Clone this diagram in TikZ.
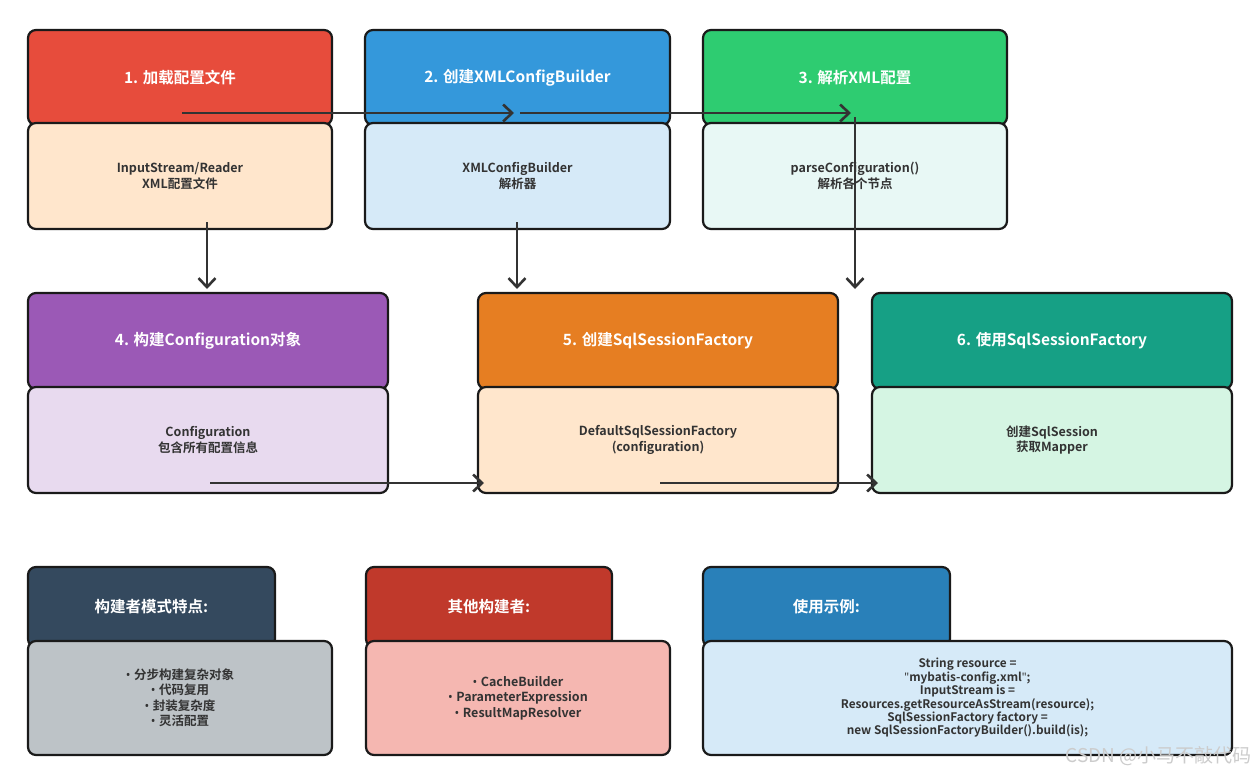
\documentclass[tikz,border=0pt]{standalone}
\usepackage{fontspec}
\setmainfont{Noto Sans CJK SC}[BoldFont={Noto Sans CJK SC Bold}]
\newfontfamily\latf{Noto Sans}
\usetikzlibrary{arrows.meta}
\definecolor{c1h}{HTML}{E74C3C}\definecolor{c1b}{HTML}{FFE6CC}
\definecolor{c2h}{HTML}{3498DB}\definecolor{c2b}{HTML}{D6EAF8}
\definecolor{c3h}{HTML}{2ECC71}\definecolor{c3b}{HTML}{E8F8F5}
\definecolor{c4h}{HTML}{9B59B6}\definecolor{c4b}{HTML}{E8DAEF}
\definecolor{c5h}{HTML}{E67E22}\definecolor{c5b}{HTML}{FFE6CC}
\definecolor{c6h}{HTML}{16A085}\definecolor{c6b}{HTML}{D5F5E3}
\definecolor{c7h}{HTML}{34495E}\definecolor{c7b}{HTML}{BDC3C7}
\definecolor{c8h}{HTML}{C0392B}\definecolor{c8b}{HTML}{F5B7B1}
\definecolor{c9h}{HTML}{2980B9}\definecolor{c9b}{HTML}{D6EAF8}
\definecolor{ink}{HTML}{333333}
\definecolor{edge}{HTML}{1A1A1A}
\newcommand\bul{{\latf\bfseries •}\hspace{3.5pt}}
\newcommand\dq{{\latf\bfseries\symbol{34}}}
\tikzset{
  boxbase/.style={draw=edge, line width=2.2pt, rounded corners=8pt, inner sep=0pt, outer sep=0pt, align=center},
  hdr/.style={boxbase, text=white, font=\bfseries\fontsize{15.5}{18}\selectfont},
  bdy/.style={boxbase, text=ink, font=\bfseries\fontsize{12.5}{15.5}\selectfont},
  arr/.style={draw=ink, line width=2.6pt, -{Straight Barb[length=9pt,width=17pt,line width=2.6pt]}}
}
\begin{document}
\begin{tikzpicture}[x=1pt,y=-1pt]
\useasboundingbox[fill=white] (0,0) rectangle (1258,779);
% Row 1
\node[hdr, fill=c1h, minimum width=304pt, minimum height=95pt] (h1) at (180,77.5) {1. 加载配置文件};
\node[bdy, fill=c1b, minimum width=304pt, minimum height=106pt] (b1) at (180,176) {InputStream/Reader\\XML配置文件};
\node[hdr, fill=c2h, minimum width=305pt, minimum height=95pt] (h2) at (517.5,77.5) {2. 创建XMLConfigBuilder};
\node[bdy, fill=c2b, minimum width=305pt, minimum height=106pt] (b2) at (517.5,176) {XMLConfigBuilder\\解析器};
\node[hdr, fill=c3h, minimum width=304pt, minimum height=95pt] (h3) at (855,77.5) {3. 解析XML配置};
\node[bdy, fill=c3b, minimum width=304pt, minimum height=106pt] (b3) at (855,176) {parseConfiguration()\\解析各个节点};
% Row 2
\node[hdr, fill=c4h, minimum width=360pt, minimum height=96pt] (h4) at (208,341) {4. 构建Configuration对象};
\node[bdy, fill=c4b, minimum width=360pt, minimum height=106pt] (b4) at (208,440) {Configuration\\包含所有配置信息};
\node[hdr, fill=c5h, minimum width=360pt, minimum height=96pt] (h5) at (658,341) {5. 创建SqlSessionFactory};
\node[bdy, fill=c5b, minimum width=360pt, minimum height=106pt] (b5) at (658,440) {DefaultSqlSessionFactory\\(configuration)};
\node[hdr, fill=c6h, minimum width=360pt, minimum height=96pt] (h6) at (1052,341) {6. 使用SqlSessionFactory};
\node[bdy, fill=c6b, minimum width=360pt, minimum height=106pt] (b6) at (1052,440) {创建SqlSession\\获取Mapper};
% Row 3
\node[hdr, fill=c7h, minimum width=247pt, minimum height=80pt] (h7) at (151.5,607) {构建者模式特点:};
\node[bdy, fill=c7b, minimum width=304pt, minimum height=114pt] (b7) at (180,698) {\bul 分步构建复杂对象\\\bul 代码复用\\\bul 封装复杂度\\\bul 灵活配置};
\node[hdr, fill=c8h, minimum width=246pt, minimum height=80pt] (h8) at (489,607) {其他构建者:};
\node[bdy, fill=c8b, minimum width=304pt, minimum height=114pt] (b8) at (518,698) {\bul CacheBuilder\\\bul ParameterExpression\\\bul ResultMapResolver};
\node[hdr, fill=c9h, minimum width=247pt, minimum height=80pt] (h9) at (826.5,607) {使用示例:};
\node[bdy, fill=c9b, minimum width=529pt, minimum height=114pt, font=\bfseries\fontsize{11.8}{13.4}\selectfont] (b9) at (967.5,698) {String resource =\\\dq mybatis-config.xml\dq;\\InputStream is =\\Resources.getResourceAsStream(resource);\\SqlSessionFactory factory =\\new SqlSessionFactoryBuilder().build(is);};
% connector endpoints
\coordinate (p1s) at (182,113); \coordinate (p1e) at (514,113);
\coordinate (p2s) at (520,113); \coordinate (p2e) at (851,113);
\coordinate (v1s) at (207,222); \coordinate (v1e) at (207,289);
\coordinate (v2s) at (517,222); \coordinate (v2e) at (517,289);
\coordinate (v3s) at (855,117); \coordinate (v3e) at (855,289);
\coordinate (q1s) at (210,483); \coordinate (q1e) at (484,483);
\coordinate (q2s) at (660,483); \coordinate (q2e) at (878,483);
\draw[arr] (p1s) -- (p1e);
\draw[arr] (p2s) -- (p2e);
\draw[arr] (v1s) -- (v1e);
\draw[arr] (v2s) -- (v2e);
\draw[arr] (v3s) -- (v3e);
\draw[arr] (q1s) -- (q1e);
\draw[arr] (q2s) -- (q2e);
% watermark
\node[anchor=east, text=gray!40, font=\fontsize{19}{22}\selectfont, inner sep=0pt] (wm) at (1252,756) {CSDN @小马不敲代码};
\end{tikzpicture}
\end{document}
